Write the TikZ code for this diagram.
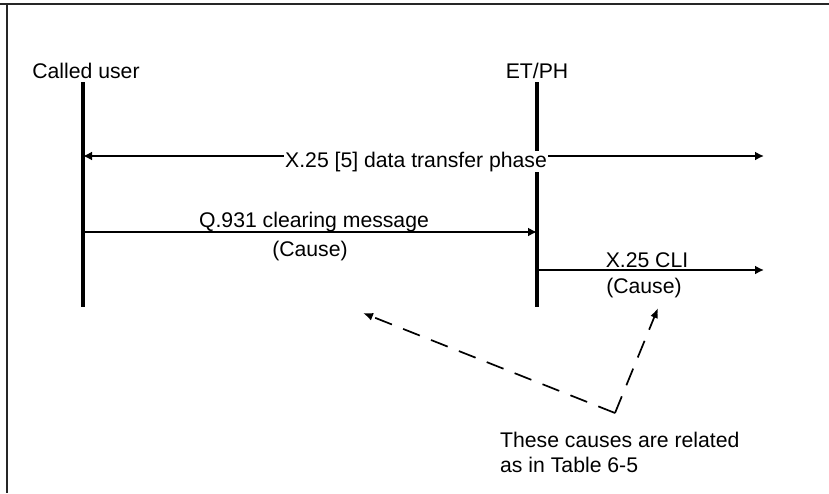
\documentclass[tikz,border=0pt]{standalone}
\usepackage{fontspec}
\setmainfont{Liberation Sans}
\usetikzlibrary{arrows.meta}
\begin{document}
\begin{tikzpicture}[x=1pt,y=-1pt,
  lbl/.style={font=\fontsize{21.2}{25}\selectfont, inner sep=0pt},
  frameline/.style={line width=2.6pt, black!85},
  life/.style={line width=3.2pt},
  msg/.style={line width=2.9pt, -{Latex[length=9pt,width=9pt]}},
  both/.style={line width=2.9pt, {Latex[length=9pt,width=9pt]}-{Latex[length=9pt,width=9pt]}},
  relation/.style={line width=1.7pt, dash pattern=on 18pt off 12pt, -{Latex[length=10pt,width=8pt]}}]
\useasboundingbox (0,0) rectangle (829,493);

% outer frame (top and left edges)
\coordinate (fTL) at (7,4);
\coordinate (fTR) at (829,4);
\coordinate (fTLx) at (0,4);
\coordinate (fBL) at (7,493);
\draw[frameline] (fTLx) -- (fTR);
\draw[frameline] (fTL) -- (fBL);

% entities
\node[lbl, anchor=base] (cu) at (86,78) {Called user};
\node[lbl, anchor=base] (et) at (537,78) {ET/PH};

% lifelines
\coordinate (cuT) at (83,82);
\coordinate (cuB) at (83,307);
\coordinate (etT) at (537,82);
\coordinate (etB) at (537,307);
\draw[life] (cuT) -- (cuB);
\draw[life] (etT) -- (etB);

% X.25 data transfer phase
\coordinate (dtL) at (83,156);
\coordinate (dtR) at (764,156);
\draw[both] (dtL) -- (dtR);
\node[lbl, anchor=base, fill=white, inner sep=1pt] (dt) at (416,167) {X.25 [5] data transfer phase};

% Q.931 clearing message
\coordinate (qL) at (83,232);
\coordinate (qR) at (537,232);
\draw[msg] (qL) -- (qR);
\node[lbl, anchor=base] (q1) at (314,227) {Q.931 clearing message};
\node[lbl, anchor=base] (q2) at (310,256) {(Cause)};

% X.25 CLI
\coordinate (xL) at (537,270);
\coordinate (xR) at (764,270);
\draw[msg] (xL) -- (xR);
\node[lbl, anchor=base] (x1) at (647,267) {X.25 CLI};
\node[lbl, anchor=base] (x2) at (644,293) {(Cause)};

% relation between the causes
\coordinate (apex) at (615,413);
\coordinate (tipL) at (363,313);
\coordinate (tipR) at (658,308);
\draw[relation] (apex) -- (tipL);
\draw[relation] (apex) -- (tipR);
\node[lbl, anchor=base west, align=left] (note) at (500,472) {These causes are related\\as in Table 6-5};
\end{tikzpicture}
\end{document}
